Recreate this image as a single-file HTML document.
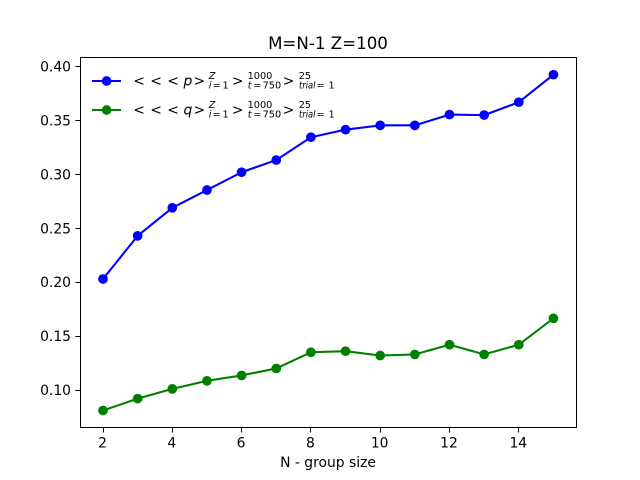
<!DOCTYPE html>
<html>
<head>
<meta charset="utf-8">
<style>
html,body{margin:0;padding:0;background:#fff;width:640px;height:480px;overflow:hidden}
svg{display:block}
text{font-family:"DejaVu Sans",sans-serif;fill:#000}
.tick{font-size:13.89px}
.m{font-size:13.89px}
.mi{font-size:13.89px;font-style:oblique}
.s{font-size:9.72px}
.si{font-size:9.72px;font-style:oblique}
</style>
</head>
<body>
<svg id="chart" width="640" height="480" viewBox="0 0 640 480" xmlns="http://www.w3.org/2000/svg">
<rect x="0" y="0" width="640" height="480" fill="#fff"/>
<g id="plot"></g>
<rect x="80.5" y="57.5" width="496" height="370" fill="none" stroke="#000" stroke-width="1"/>
<g id="xticks"></g>
<g id="yticks"></g>
<text x="328" y="49" text-anchor="middle" font-size="16.67">M=N-1 Z=100</text>
<text x="328" y="467" text-anchor="middle" font-size="13.89">N - group size</text>
<g>
  <g>
    <line x1="92" y1="81" x2="121" y2="81" stroke="#0000ff" stroke-width="2.08"/>
    <circle cx="106.6" cy="81" r="4.86" fill="#0000ff"/>
    <text class="m" x="133.3" y="85.5">&lt;</text>
    <text class="m" x="150.2" y="85.5">&lt;</text>
    <text class="m" x="167.3" y="85.5">&lt;</text>
    <text class="mi" x="183.5" y="85.5">p</text>
    <text class="m" x="193.5" y="85.5">&gt;</text>
    <text class="si" x="208.8" y="79">Z</text>
    <text class="si" x="208.8" y="88.5">i</text>
    <text class="s" x="212.5" y="88.5">=</text>
    <text class="s" x="222.5" y="88.5">1</text>
    <text class="m" x="231.9" y="85.5">&gt;</text>
    <text class="s" x="247.6" y="79">1000</text>
    <text class="si" x="247.8" y="88.5">t</text>
    <text class="s" x="253.2" y="88.5">=</text>
    <text class="s" x="262.6" y="88.5">750</text>
    <text class="m" x="282.8" y="85.5">&gt;</text>
    <text class="s" x="298.7" y="79">25</text>
    <text class="si" x="299" y="88.5" textLength="16.5" lengthAdjust="spacingAndGlyphs">trial</text>
    <text class="s" x="316.5" y="88.5">=</text>
    <text class="s" x="328.5" y="88.5">1</text>
  </g>
  <g>
    <line x1="92" y1="110" x2="121" y2="110" stroke="#008000" stroke-width="2.08"/>
    <circle cx="106.6" cy="110" r="4.86" fill="#008000"/>
    <text class="m" x="133.3" y="114.5">&lt;</text>
    <text class="m" x="150.2" y="114.5">&lt;</text>
    <text class="m" x="167.3" y="114.5">&lt;</text>
    <text class="mi" x="183.5" y="114.5">q</text>
    <text class="m" x="193.5" y="114.5">&gt;</text>
    <text class="si" x="208.8" y="108">Z</text>
    <text class="si" x="208.8" y="117.5">i</text>
    <text class="s" x="212.5" y="117.5">=</text>
    <text class="s" x="222.5" y="117.5">1</text>
    <text class="m" x="231.9" y="114.5">&gt;</text>
    <text class="s" x="247.6" y="108">1000</text>
    <text class="si" x="247.8" y="117.5">t</text>
    <text class="s" x="253.2" y="117.5">=</text>
    <text class="s" x="262.6" y="117.5">750</text>
    <text class="m" x="282.8" y="114.5">&gt;</text>
    <text class="s" x="298.7" y="108">25</text>
    <text class="si" x="299" y="117.5" textLength="16.5" lengthAdjust="spacingAndGlyphs">trial</text>
    <text class="s" x="316.5" y="117.5">=</text>
    <text class="s" x="328.5" y="117.5">1</text>
  </g>
</g>
<script>
const groupSizes = [2,3,4,5,6,7,8,9,10,11,12,13,14,15];
const pValues = [0.203,0.243,0.269,0.2855,0.302,0.3133,0.3345,0.3415,0.3455,0.3455,0.3555,0.355,0.367,0.3925];
const qValues = [0.081,0.092,0.101,0.1085,0.1135,0.12,0.135,0.136,0.132,0.133,0.142,0.133,0.142,0.1665];
const xTickValues = [2,4,6,8,10,12,14];
const yTickValues = [0.10,0.15,0.20,0.25,0.30,0.35,0.40];

const NS = 'http://www.w3.org/2000/svg';
function xScale(v){ return 103 + (v - 2) * 34.65; }
function yScale(v){ return 390 - (v - 0.10) * 1078; }
function make(tag, attrs, parent){
  const el = document.createElementNS(NS, tag);
  for (const k in attrs) el.setAttribute(k, attrs[k]);
  parent.appendChild(el);
  return el;
}
function drawSeries(values, color){
  const plot = document.getElementById('plot');
  const pts = values.map((v,i) => xScale(groupSizes[i]) + ',' + yScale(v)).join(' ');
  const line = make('polyline', {points: pts, fill: 'none', stroke: color, 'stroke-width': 2.08, 'stroke-linejoin': 'round'}, plot);
  
  
  values.forEach((v,i) => {
    const c = make('circle', {cx: xScale(groupSizes[i]), cy: yScale(v), r: 4.86, fill: color}, plot);
    
    
  });
}
drawSeries(pValues, '#0000ff');
drawSeries(qValues, '#008000');

const xg = document.getElementById('xticks');
xTickValues.forEach(v => {
  const x = Math.floor(xScale(v)) + 0.5;
  const t = make('line', {x1: x, x2: x, y1: 427.5, y2: 432.5, stroke: '#000', 'stroke-width': 1}, xg);
  
  
  const l = make('text', {x: xScale(v) - 0.5, y: 447.6, 'text-anchor': 'middle', class: 'tick'}, xg);
  
  
  l.textContent = String(v);
});
const yg = document.getElementById('yticks');
yTickValues.forEach(v => {
  const y = Math.floor(yScale(v)) + 0.5;
  const t = make('line', {x1: 75.5, x2: 80.5, y1: y, y2: y, stroke: '#000', 'stroke-width': 1}, yg);
  
  
  const l = make('text', {x: 71, y: yScale(v) + 5, 'text-anchor': 'end', class: 'tick'}, yg);
  
  
  l.textContent = v.toFixed(2);
});
</script>
</svg>
</body>
</html>
